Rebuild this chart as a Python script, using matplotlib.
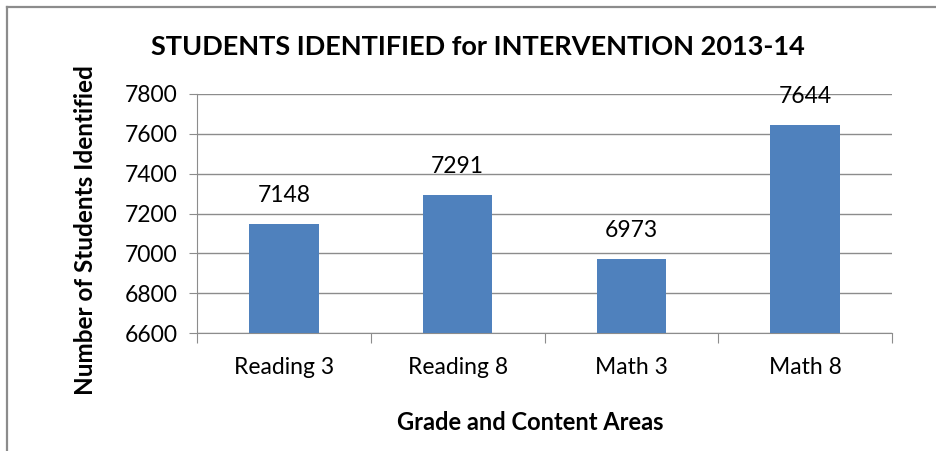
import matplotlib.pyplot as plt
from matplotlib.lines import Line2D

categorias = ["Reading 3", "Reading 8", "Math 3", "Math 8"]
valores = [7148, 7291, 6973, 7644]
ticks_y = [6600, 6800, 7000, 7200, 7400, 7600, 7800]

plt.rcParams['font.family'] = ['Lato', 'DejaVu Sans']

fig = plt.figure(figsize=(9.36, 4.51), dpi=100)
ax = fig.add_axes([0.2105, 0.2616, 0.7425, 0.530])

# marco del grafico (solo arriba e izquierda)
xb, yb = 7 / 936, 1 - 7 / 451
fig.lines.append(Line2D([xb, 1], [yb, yb], transform=fig.transFigure,
                        color="#8c8c8c", linewidth=1.6))
fig.lines.append(Line2D([xb, xb], [0, yb], transform=fig.transFigure,
                        color="#8c8c8c", linewidth=1.6))

x = range(len(categorias))
ax.bar(x, valores, width=0.4, color="#4F81BD", zorder=3)
for i, v in enumerate(valores):
    ax.text(i, v + 90, str(v), ha="center", va="bottom", fontsize=16.5, color="black")

ax.set_ylim(6600, 7800)
ax.set_yticks(ticks_y)
ax.set_xlim(-0.5, len(categorias) - 0.5)
ax.set_xticks([i - 0.5 for i in range(len(categorias) + 1)])
ax.set_xticklabels([])
ax.set_xticks(list(x), minor=True)
ax.set_xticklabels(categorias, minor=True)
ax.tick_params(axis="x", which="minor", length=0, pad=17, labelsize=16.5)
ax.tick_params(axis="x", which="major", length=7, color="#8c8c8c")
ax.tick_params(axis="y", length=6, color="#8c8c8c", labelsize=16.5, pad=8)

ax.grid(axis="y", color="#8c8c8c", linewidth=1, zorder=0)
for s in ["top", "right"]:
    ax.spines[s].set_visible(False)
for s in ["left", "bottom"]:
    ax.spines[s].set_color("#8c8c8c")

fig.text(0.511, 0.895, "STUDENTS IDENTIFIED for INTERVENTION 2013-14",
         ha="center", va="center", fontsize=19.5, fontweight="bold")
fig.text(0.567, 0.063, "Grade and Content Areas", ha="center", va="center",
         fontsize=17, fontweight="bold")
fig.text(0.091, 0.49, "Number of Students Identified", ha="center", va="center",
         rotation=90, fontsize=17.5, fontweight="bold")

fig.savefig("out.png", dpi=100)
